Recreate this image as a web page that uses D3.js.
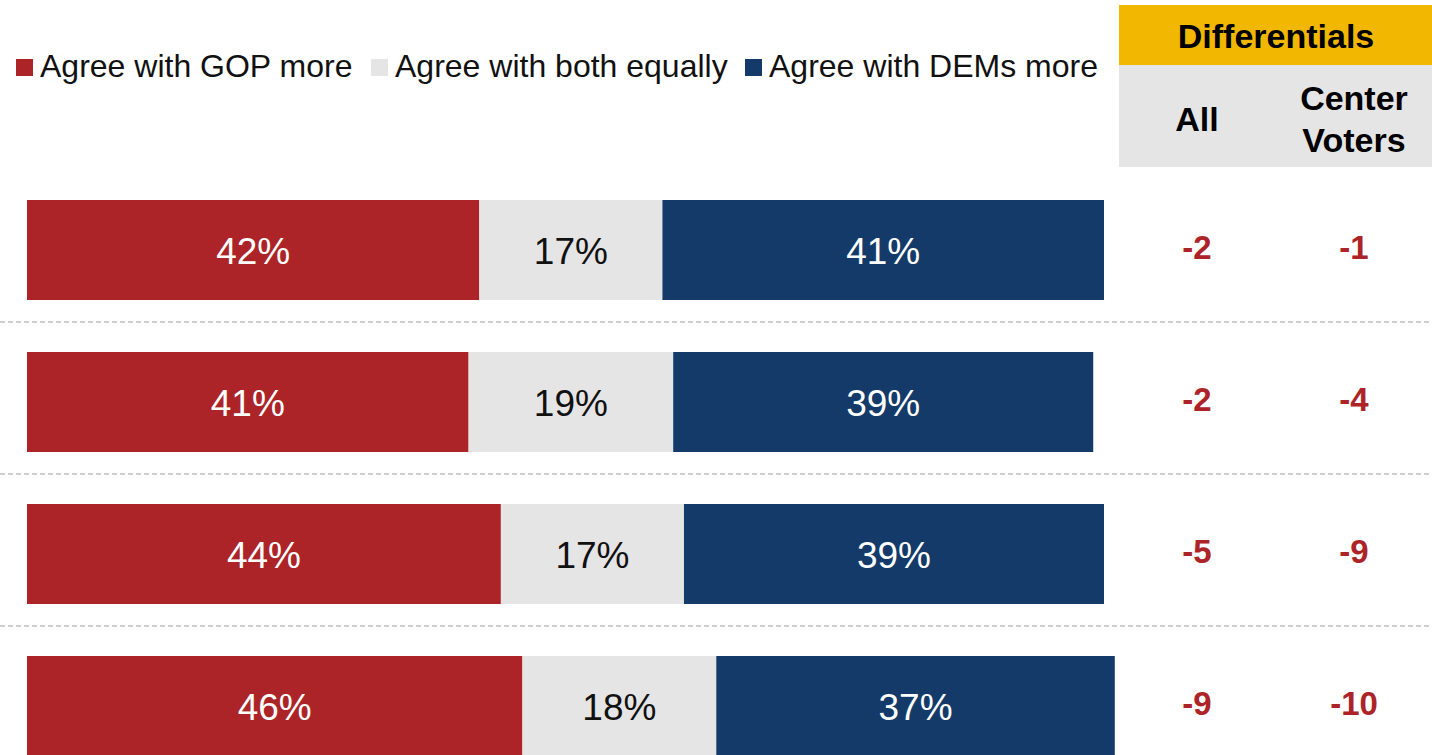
<!DOCTYPE html>
<html>
<head>
<meta charset="utf-8">
<script src="https://cdn.jsdelivr.net/npm/d3@7"></script>
<style>
  html, body { margin: 0; padding: 0; background: #fff; }
  svg { display: block; font-family: "Liberation Sans", Arial, sans-serif; }
</style>
</head>
<body>
<svg id="chart" width="1432" height="755"></svg>
<script>
// Series: share of respondents per row (percent)
const seriesNames = ["Agree with GOP more", "Agree with both equally", "Agree with DEMs more"];
const seriesColors = ["#AC2428", "#E5E5E5", "#133A69"];
const labelColors = ["#FFFFFF", "#111111", "#FFFFFF"];
const gopMore = [42, 41, 44, 46];
const bothEqually = [17, 19, 17, 18];
const demsMore = [41, 39, 39, 37];
const rows = [0, 1, 2, 3];

// Differentials table
const diffHeader = "Differentials";
const diffColumns = [["All"], ["Center", "Voters"]];
const diffAll = [-2, -2, -5, -9];
const diffCenter = [-1, -4, -9, -10];

const svg = d3.select("#chart");

const x = d3.scaleLinear().domain([0, 100]).range([27, 1104]);
const y = d3.scaleBand().domain(rows).range([174, 782])
  .paddingInner(52 / 152).paddingOuter(26 / 152);

const table = rows.map(i => [gopMore[i], bothEqually[i], demsMore[i]]);
const stacked = table.map((vals, i) => {
  let acc = 0;
  return vals.map((v, s) => {
    const d = { row: i, series: s, value: v, x0: acc, x1: acc + v };
    acc += v;
    return d;
  });
});

// Dashed separators between rows
svg.append("g").selectAll("line")
  .data(rows.slice(0, -1))
  .join("line")
  .attr("x1", 0).attr("x2", 1432)
  .attr("y1", i => y(i) + y.bandwidth() + 22)
  .attr("y2", i => y(i) + y.bandwidth() + 22)
  .attr("stroke", "#BDBDBD")
  .attr("stroke-width", 1.5)
  .attr("stroke-dasharray", "5,3");

// Stacked bars
const rowG = svg.append("g").selectAll("g")
  .data(stacked)
  .join("g");

rowG.selectAll("rect")
  .data(d => d)
  .join("rect")
  .attr("x", d => x(d.x0))
  .attr("y", d => y(d.row))
  .attr("width", d => x(d.x1) - x(d.x0))
  .attr("height", y.bandwidth())
  .attr("fill", d => seriesColors[d.series]);

rowG.selectAll("text")
  .data(d => d)
  .join("text")
  .attr("x", d => (x(d.x0) + x(d.x1)) / 2)
  .attr("y", d => y(d.row) + y.bandwidth() / 2 + 14)
  .attr("text-anchor", "middle")
  .attr("font-size", 37)
  .attr("fill", d => labelColors[d.series])
  .text(d => d.value + "%");

// Legend
const legendX = [16, 371, 745];
const legend = svg.append("g").selectAll("g")
  .data(seriesNames)
  .join("g")
  .attr("transform", (d, i) => `translate(${legendX[i]},0)`);
legend.append("rect")
  .attr("x", 0).attr("y", 59).attr("width", 17).attr("height", 17)
  .attr("fill", (d, i) => seriesColors[i]);
legend.append("text")
  .attr("x", 24).attr("y", 77)
  .attr("font-size", 32)
  .attr("fill", "#111")
  .text(d => d);

// Differentials header
const colX = [1197, 1354];
svg.append("rect")
  .attr("x", 1119).attr("y", 5).attr("width", 313).attr("height", 60)
  .attr("fill", "#F2B700");
svg.append("rect")
  .attr("x", 1119).attr("y", 65).attr("width", 313).attr("height", 102)
  .attr("fill", "#E5E5E5");
svg.append("text")
  .attr("x", 1276).attr("y", 48)
  .attr("text-anchor", "middle")
  .attr("font-size", 34).attr("font-weight", "bold")
  .attr("fill", "#000")
  .text(diffHeader);

diffColumns.forEach((lines, c) => {
  const t = svg.append("text")
    .attr("text-anchor", "middle")
    .attr("font-size", 34).attr("font-weight", "bold")
    .attr("fill", "#000");
  const baseY = lines.length === 1 ? 131 : 110;
  lines.forEach((ln, k) => {
    t.append("tspan").attr("x", colX[c]).attr("y", baseY + k * 42).text(ln);
  });
});

// Differential values
[diffAll, diffCenter].forEach((vals, c) => {
  svg.append("g").selectAll("text")
    .data(rows)
    .join("text")
    .attr("x", colX[c])
    .attr("y", i => y(i) + y.bandwidth() / 2 + 9)
    .attr("text-anchor", "middle")
    .attr("font-size", 33).attr("font-weight", "bold")
    .attr("fill", "#AC2428")
    .text(i => vals[i]);
});
</script>
</body>
</html>
